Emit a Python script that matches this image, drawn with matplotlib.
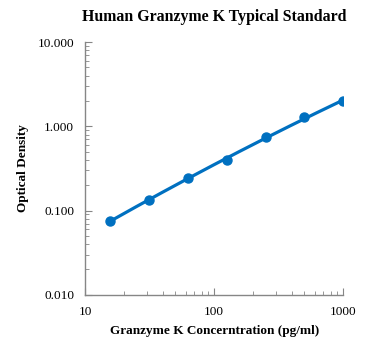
import numpy as np
import matplotlib
matplotlib.use('Agg')
import matplotlib.pyplot as plt
from matplotlib.ticker import FixedLocator, FuncFormatter, LogLocator, NullFormatter

plt.rcParams['font.family'] = ['Liberation Serif', 'DejaVu Serif']

conc = [15.6, 31.25, 62.5, 125, 250, 500, 1000]
od = [0.076, 0.133, 0.242, 0.40, 0.75, 1.28, 1.99]

# curve fitted in log-log space
coef = np.polyfit(np.log10(conc), np.log10(od), 2)
xs = np.logspace(np.log10(conc[0]), np.log10(conc[-1]), 200)
ys = 10 ** np.polyval(coef, np.log10(xs))

fig = plt.figure(figsize=(3.71, 3.51), dpi=100)
ax = fig.add_axes([0.230, 0.160, 0.695, 0.720])

blue = '#0070C0'
ax.plot(xs, ys, color=blue, lw=2.3, zorder=2)
ax.plot(conc, od, 'o', color=blue, ms=6.5, zorder=3)

ax.set_xscale('log')
ax.set_yscale('log')
ax.set_xlim(10, 1000)
ax.set_ylim(0.01, 10)

ax.xaxis.set_major_locator(FixedLocator([10, 100, 1000]))
ax.xaxis.set_major_formatter(FuncFormatter(lambda v, p: '%d' % round(v)))
ax.yaxis.set_major_locator(FixedLocator([0.01, 0.1, 1, 10]))
ax.yaxis.set_major_formatter(FuncFormatter(lambda v, p: '%.3f' % v))
for a in (ax.xaxis, ax.yaxis):
    a.set_minor_locator(LogLocator(base=10, subs=np.arange(2, 10)))
    a.set_minor_formatter(NullFormatter())

for s in ['top', 'right']:
    ax.spines[s].set_visible(False)
for s in ['left', 'bottom']:
    ax.spines[s].set_color('#868686')
    ax.spines[s].set_linewidth(1.0)

ax.tick_params(which='major', direction='in', length=5, color='#868686', labelsize=9.5, pad=8)
ax.tick_params(which='minor', direction='in', length=3, color='#868686')

ax.set_title('Human Granzyme K Typical Standard', fontsize=11.4, fontweight='bold', pad=15)
ax.set_xlabel('Granzyme K Concerntration (pg/ml)', fontsize=9.5, fontweight='bold', labelpad=5)
ax.set_ylabel('Optical Density', fontsize=9.5, fontweight='bold', labelpad=6)

fig.savefig('out.png', dpi=100)
